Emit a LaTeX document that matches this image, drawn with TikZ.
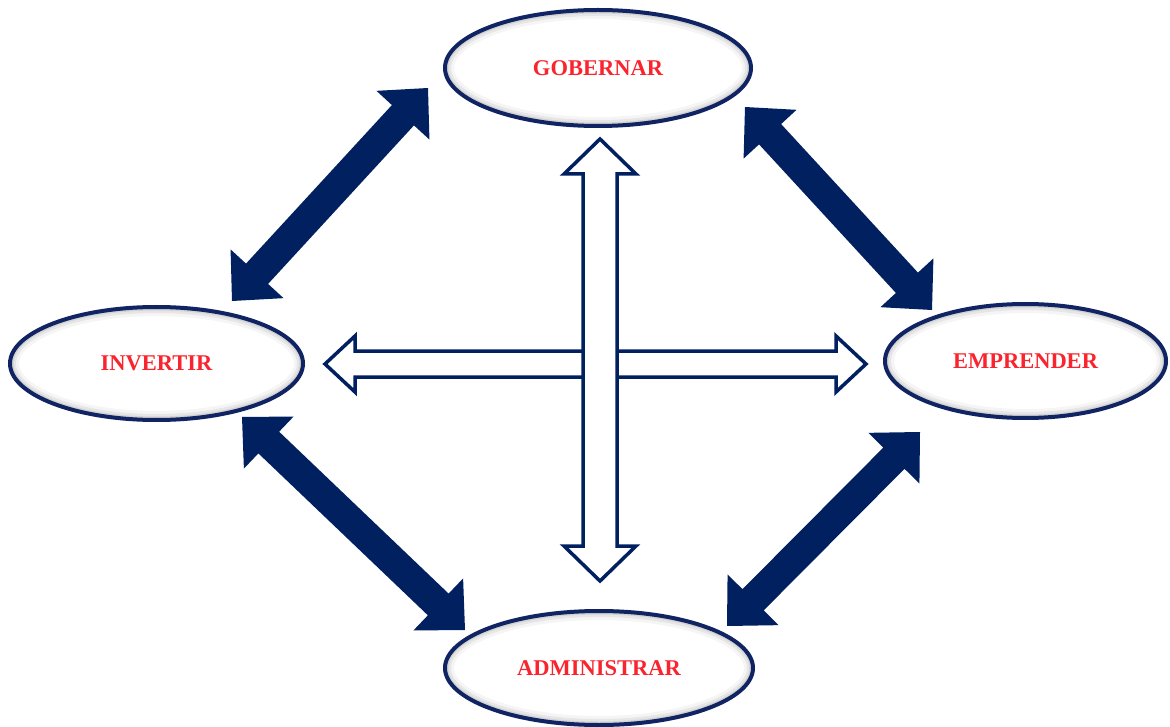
\documentclass[tikz,border=0pt]{standalone}
\usepackage{fontspec}
\setmainfont{Liberation Serif}
\usetikzlibrary{shapes.geometric,calc}

\definecolor{navy}{RGB}{0,32,96}
\definecolor{rimblue}{RGB}{16,36,100}
\definecolor{wordred}{RGB}{250,36,46}

% double-headed block arrow between two named points:
% #1 style, #2 from, #3 to, #4 half shaft width, #5 half head width, #6 head length
\newcommand{\dblarrow}[6]{%
  \path[#1] (#2)
    -- ($(#2)!#6!(#3)!#5!90:(#3)$)
    -- ($(#2)!#6!(#3)!#4!90:(#3)$)
    -- ($(#3)!#6!(#2)!#4!-90:(#2)$)
    -- ($(#3)!#6!(#2)!#5!-90:(#2)$)
    -- (#3)
    -- ($(#3)!#6!(#2)!#5!90:(#2)$)
    -- ($(#3)!#6!(#2)!#4!90:(#2)$)
    -- ($(#2)!#6!(#3)!#4!-90:(#3)$)
    -- ($(#2)!#6!(#3)!#5!-90:(#3)$)
    -- cycle;}

\tikzset{
  oval/.style={ellipse, draw=rimblue, line width=4pt, fill=white, inner sep=0pt,
    font=\fontsize{22.5}{22.5}\selectfont\bfseries, text=wordred,
    % soft inner shade along the upper right rim
    path picture={
      \foreach \w/\o in {18pt/0.04,12pt/0.06,7pt/0.08,3pt/0.09}{
        \path let \p1=(path picture bounding box.north east),
                  \p2=(path picture bounding box.south west) in
          [draw=black, opacity=\o, line width=\w, shift={(-5pt,-4pt)}]
          (path picture bounding box.center) ellipse [x radius={(\x1-\x2)/2}, y radius={(\y1-\y2)/2}];
      }
    }},
  boldarrow/.style={fill=navy},
  hollowarrow/.style={draw=navy, line width=3.5pt, fill=white, line join=miter}
}

\begin{document}
\begin{tikzpicture}[x=1pt, y=-1pt]
  \useasboundingbox[fill=white] (0,0) rectangle (1170,727);

  % the four activities
  \node[oval, minimum width=306pt, minimum height=116pt] (gob) at (598,68) {GOBERNAR};
  \node[oval, minimum width=293pt, minimum height=113pt] (inv) at (156.5,363.5) {INVERTIR};
  \node[oval, minimum width=281pt, minimum height=114pt] (emp) at (1025.5,361) {EMPRENDER};
  \node[oval, minimum width=308pt, minimum height=114pt] (adm) at (599,668) {ADMINISTRAR};

  % ends of the outer links
  \coordinate (ul-a) at (232,301);  \coordinate (ul-b) at (428,88);
  \coordinate (ur-a) at (745,107);  \coordinate (ur-b) at (932,310);
  \coordinate (ll-a) at (242,417);  \coordinate (ll-b) at (465,630);
  \coordinate (lr-a) at (920,432);  \coordinate (lr-b) at (727,626);

  % ends of the central cross
  \coordinate (h-a) at (325,364);   \coordinate (h-b) at (866,364);
  \coordinate (v-a) at (600,139);   \coordinate (v-b) at (600,581);

  % outer links
  \dblarrow{boldarrow}{ul-a}{ul-b}{15pt}{36pt}{37pt}
  \dblarrow{boldarrow}{ur-a}{ur-b}{15pt}{36pt}{37pt}
  \dblarrow{boldarrow}{ll-a}{ll-b}{15pt}{36pt}{37pt}
  \dblarrow{boldarrow}{lr-a}{lr-b}{15pt}{36pt}{37pt}

  % central cross, vertical one on top
  \dblarrow{hollowarrow}{h-a}{h-b}{13pt}{28pt}{30pt}
  \dblarrow{hollowarrow}{v-a}{v-b}{17pt}{36pt}{35pt}
\end{tikzpicture}
\end{document}
